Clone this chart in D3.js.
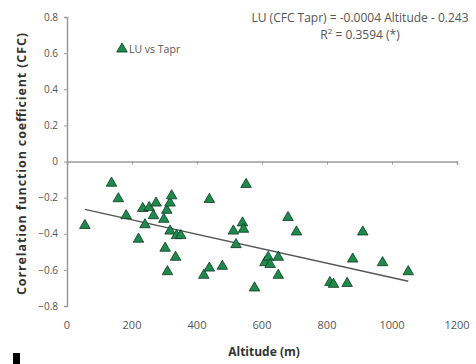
<!DOCTYPE html>
<html>
<head>
<meta charset="utf-8">
<script src="https://cdn.jsdelivr.net/npm/d3@7/dist/d3.min.js"></script>
<style>
  body { margin: 0; background: #fff; }
  text { font-family: "Open Sans", "DejaVu Sans", sans-serif; }
</style>
</head>
<body>
<script>
// altitude (m) and CFC for LU vs Tapr
var altitude = [55, 137, 158, 182, 220, 233, 240, 253, 266, 274, 298, 302, 307, 309, 317, 317, 322, 334, 337, 350,
                421, 438, 438, 478, 512, 520, 540, 543, 551, 577, 609, 619, 625, 650, 650, 680, 706,
                809, 820, 862, 879, 910, 971, 1050];
var cfc = [-0.354, -0.12, -0.206, -0.30, -0.43, -0.26, -0.35, -0.255, -0.30, -0.23, -0.32, -0.48, -0.27, -0.61, -0.23, -0.385, -0.19, -0.53, -0.41, -0.41,
           -0.63, -0.21, -0.59, -0.58, -0.385, -0.46, -0.34, -0.375, -0.127, -0.70, -0.56, -0.53, -0.57, -0.53, -0.63, -0.31, -0.39,
           -0.67, -0.68, -0.675, -0.54, -0.39, -0.56, -0.61];
var xTicks = [0, 200, 400, 600, 800, 1000, 1200];
var yTicks = [0.8, 0.6, 0.4, 0.2, 0, -0.2, -0.4, -0.6, -0.8];
var slope = -0.0004, intercept = -0.243;

var w = 476, h = 364;
var svg = d3.select("body").append("svg")
    .attr("width", w)
    .attr("height", h);

var x = d3.scaleLinear().domain([0, 1200]).range([67, 457]);
var y = d3.scaleLinear().domain([-0.8, 0.8]).range([306, 17]);

// y axis
var yAxis = svg.append("g")
    .attr("transform", "translate(" + x(0) + ",0)")
    .call(d3.axisLeft(y).tickValues(yTicks).tickSize(3).tickPadding(6)
      .tickFormat(d => d === 0 ? "0" : d3.format(".1f")(d)));
yAxis.select(".domain").attr("stroke", "#9a9a9a").attr("stroke-width", 1.5);
yAxis.selectAll(".tick line").attr("stroke", "#9a9a9a");
yAxis.selectAll(".tick text").attr("fill", "#555").style("font-size", "10px");

// x axis drawn at y = 0, labels low
var xAxis = svg.append("g")
    .attr("transform", "translate(0," + y(0) + ")")
    .call(d3.axisBottom(x).tickValues(xTicks).tickSize(3).tickFormat(""));
xAxis.select(".domain").attr("stroke", "#9a9a9a").attr("stroke-width", 1.5);
xAxis.selectAll(".tick line").attr("stroke", "#9a9a9a");

svg.append("g").selectAll("text")
  .data(xTicks)
  .enter()
  .append("text")
  .attr("x", d => x(d))
  .attr("y", 329)
  .attr("text-anchor", "middle")
  .attr("fill", "#555")
  .style("font-size", "11px")
  .text(d => d);

// axis titles
svg.append("text")
  .attr("x", 264)
  .attr("y", 356)
  .attr("text-anchor", "middle")
  .attr("fill", "#333")
  .style("font-size", "12px")
  .style("font-weight", "bold")
  .text("Altitude  (m)");

svg.append("text")
  .attr("transform", "translate(26,164) rotate(-90)")
  .attr("text-anchor", "middle")
  .attr("fill", "#333")
  .attr("textLength", 262)
  .attr("lengthAdjust", "spacing")
  .style("font-size", "12.5px")
  .style("font-weight", "bold")
  .text("Correlation function  coefficient (CFC)");

// trend line
var line = d3.line().x(d => x(d)).y(d => y(slope * d + intercept));
svg.append("path")
  .attr("d", line([d3.min(altitude), d3.max(altitude)]))
  .attr("fill", "none")
  .attr("stroke", "#555")
  .attr("stroke-width", 1.3);

// points
var tri = d3.symbol().type(d3.symbolTriangle).size(48);
svg.append("g").selectAll("path")
  .data(altitude)
  .enter()
  .append("path")
  .attr("transform", (d, i) => "translate(" + x(d) + "," + y(cfc[i]) + ")")
  .attr("d", tri)
  .attr("fill", "#1f8a4c")
  .attr("stroke", "#0d3b22")
  .attr("stroke-width", 0.8);

// legend
svg.append("path")
  .attr("transform", "translate(122,49)")
  .attr("d", tri)
  .attr("fill", "#1f8a4c")
  .attr("stroke", "#0d3b22")
  .attr("stroke-width", 0.8);
svg.append("text")
  .attr("x", 129)
  .attr("y", 53)
  .attr("fill", "#555")
  .style("font-size", "10.5px")
  .text("LU vs Tapr");

// equation
svg.append("text")
  .attr("x", 360)
  .attr("y", 22)
  .attr("text-anchor", "middle")
  .attr("fill", "#555")
  .style("font-size", "12px")
  .text("LU (CFC Tapr) = -0.0004 Altitude - 0.243");
var r2 = svg.append("text")
  .attr("x", 360)
  .attr("y", 39)
  .attr("text-anchor", "middle")
  .attr("fill", "#555")
  .style("font-size", "12px");
r2.append("tspan").text("R");
r2.append("tspan").attr("dy", -5).style("font-size", "8px").text("2");
r2.append("tspan").attr("dy", 5).text(" = 0.3594 (*)");

// stray black mark bottom left
svg.append("rect")
  .attr("x", 13).attr("y", 353)
  .attr("width", 7).attr("height", 11)
  .attr("fill", "#000");
</script>
</body>
</html>
